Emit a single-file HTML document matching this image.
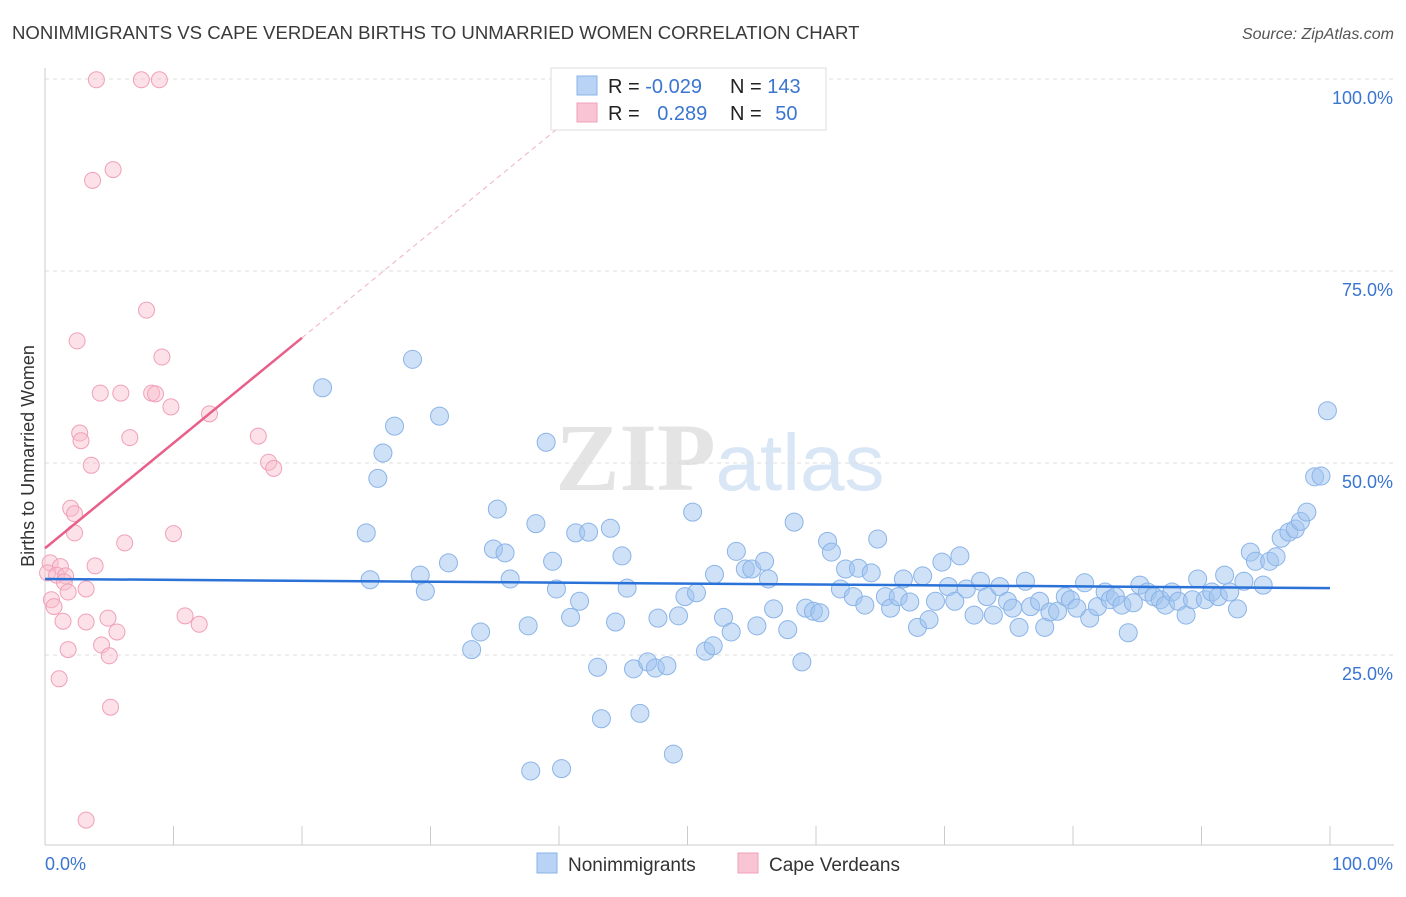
<!DOCTYPE html>
<html><head><meta charset="utf-8"><style>
body{margin:0;background:#fff;font-family:"Liberation Sans",sans-serif;}
svg text{font-family:"Liberation Sans",sans-serif;}
</style></head><body>
<svg id="chart" width="1406" height="892" xmlns="http://www.w3.org/2000/svg">
<text x="12" y="39" font-size="18.6" fill="#3a3a3a">NONIMMIGRANTS VS CAPE VERDEAN BIRTHS TO UNMARRIED WOMEN CORRELATION CHART</text>
<text x="1394" y="39" font-size="16" fill="#555" text-anchor="end" font-style="italic">Source: ZipAtlas.com</text>
<text x="720" y="490" font-size="96" text-anchor="middle"><tspan font-family="Liberation Serif" fill="#e4e4e4" font-weight="bold">ZIP</tspan><tspan fill="#d8e6f6" font-size="80">atlas</tspan></text>
<g id="grid"></g>
<g id="marks"></g>
<text transform="translate(34,456) rotate(-90)" font-size="18" fill="#333" text-anchor="middle">Births to Unmarried Women</text>
<g>
<rect x="551" y="68" width="275" height="62" fill="#fff" stroke="#ddd"/>
<rect x="577" y="76" width="20" height="19" fill="#b8d3f5" stroke="#8ab4e8"/>
<rect x="577" y="103" width="20" height="19" fill="#f9c4d3" stroke="#f0a0b8"/>
<text x="608" y="93" font-size="20" fill="#222">R = <tspan fill="#3a75d0">-0.029</tspan></text>
<text x="730" y="93" font-size="20" fill="#222">N = <tspan fill="#3a75d0">143</tspan></text>
<text x="608" y="120" font-size="20" fill="#222">R = <tspan fill="#3a75d0" dx="12">0.289</tspan></text>
<text x="730" y="120" font-size="20" fill="#222">N = <tspan fill="#3a75d0" dx="8">50</tspan></text>
</g>
<g>
<rect x="537" y="853" width="20" height="20" fill="#b8d3f5" stroke="#8ab4e8"/>
<text x="568" y="871" font-size="19" fill="#333">Nonimmigrants</text>
<rect x="738" y="853" width="20" height="20" fill="#f9c4d3" stroke="#f0a0b8"/>
<text x="769" y="871" font-size="19" fill="#333">Cape Verdeans</text>
</g>
</svg>
<script>
const blueX=[21.6,28.6,27.2,30.7,26.3,25.9,39.0,25.0,25.3,35.2,38.2,34.9,35.8,36.2,29.2,29.6,31.4,33.2,33.9,37.6,39.5,39.8,40.9,41.6,41.3,42.3,44.0,44.9,45.3,44.4,43.0,43.3,46.3,45.8,46.9,47.5,48.4,48.9,37.8,40.2,47.7,49.3,49.8,50.7,50.4,51.4,52.0,52.1,52.8,53.4,53.8,54.5,55.0,55.4,56.0,56.3,56.7,57.8,58.3,58.9,59.2,59.8,60.3,60.9,61.2,61.9,62.3,62.9,63.3,63.8,64.3,64.8,65.4,65.8,66.4,66.8,67.3,67.9,68.3,68.8,69.3,69.8,70.3,70.8,71.2,71.7,72.3,72.8,73.3,73.8,74.3,74.9,75.3,75.8,76.3,76.7,77.4,77.8,78.2,78.8,79.4,79.8,80.3,80.9,81.3,81.9,82.5,82.9,83.3,83.8,84.3,84.7,85.2,85.8,86.3,86.8,87.2,87.7,88.2,88.8,89.3,89.7,90.3,90.8,91.3,91.8,92.2,92.8,93.3,93.8,94.2,94.8,95.3,95.8,96.2,96.8,97.3,97.7,98.2,98.8,99.3,99.8];
const blueY=[59.8,63.5,54.8,56.1,51.3,48.0,52.7,40.9,34.8,44.0,42.1,38.8,38.3,34.9,35.4,33.3,37.0,25.7,28.0,28.8,37.2,33.6,29.9,32.0,40.9,41.0,41.5,37.9,33.7,29.3,23.4,16.7,17.4,23.2,24.1,23.3,23.6,12.1,9.9,10.2,29.8,30.1,32.6,33.1,43.6,25.5,26.2,35.5,29.9,28.0,38.5,36.2,36.2,28.8,37.2,34.9,31.0,28.3,42.3,24.1,31.1,30.7,30.5,39.8,38.4,33.6,36.2,32.6,36.3,31.5,35.7,40.1,32.6,31.1,32.6,34.9,31.9,28.6,35.3,29.6,32.0,37.1,33.9,32.0,37.9,33.6,30.2,34.6,32.6,30.2,33.9,32.0,31.1,28.6,34.6,31.3,32.0,28.6,30.6,30.7,32.6,32.2,31.1,34.4,29.8,31.3,33.2,32.2,32.6,31.5,27.9,31.8,34.1,33.2,32.6,32.2,31.5,33.2,32.0,30.2,32.2,34.9,32.2,33.2,32.6,35.4,33.2,31.0,34.6,38.4,37.2,34.1,37.2,37.8,40.2,41.0,41.4,42.4,43.6,48.2,48.3,56.8];
const pinkX=[4.0,7.5,8.9,5.3,3.7,7.9,2.5,9.1,4.3,5.9,8.3,8.6,9.8,12.8,2.7,2.8,6.6,16.6,3.6,17.4,17.8,2.0,2.3,2.3,10.0,6.2,3.9,0.4,1.2,0.2,0.9,1.6,1.5,1.8,3.2,0.5,0.7,1.4,3.2,4.9,10.9,12.0,5.6,4.4,1.8,5.0,1.1,5.1,3.2];
const pinkY=[99.9,99.9,99.9,88.2,86.8,69.9,65.9,63.8,59.1,59.1,59.1,59.0,57.3,56.4,53.9,52.9,53.3,53.5,49.7,50.1,49.3,44.1,43.4,40.9,40.8,39.6,36.6,37.0,36.5,35.7,35.4,35.3,34.5,33.2,33.6,32.2,31.3,29.4,29.3,29.8,30.1,29.0,28.0,26.3,25.7,24.9,21.9,18.2,3.5];
const blueTrend=[34.9,33.7];
const pinkTrend=[38.9,66.3];
const yTicks=[25,50,75,100];
const xTicks=[0,10,20,30,40,50,60,70,80,90,100];
const NS="http://www.w3.org/2000/svg";
const X=v=>45+v*12.85, Y=v=>847-v*7.68;
function mk(tag,attrs,parent){const e=document.createElementNS(NS,tag);for(const k in attrs)e.setAttribute(k,attrs[k]);parent.appendChild(e);return e;}
const grid=document.getElementById('grid'), marks=document.getElementById('marks');
yTicks.forEach(t=>{
 const l=mk('line',{x1:45,x2:1394,y1:Y(t),y2:Y(t),stroke:'#ddd','stroke-dasharray':'4,4'},grid);
 
 
 const tx=mk('text',{x:1393,y:Y(t)+25,'font-size':18,fill:'#3a75d0','text-anchor':'end'},grid);
 tx.textContent=t.toFixed(1)+'%';
 
 
});
let a=mk('line',{x1:45,x2:45,y1:68,y2:845,stroke:'#ccc'},grid);


a=mk('line',{x1:45,x2:1394,y1:845,y2:845,stroke:'#ccc'},grid);


xTicks.forEach(t=>{
 const l=mk('line',{x1:X(t),x2:X(t),y1:826,y2:845,stroke:'#ccc'},grid);
 
 
});
let t0=mk('text',{x:45,y:870,'font-size':18,fill:'#3a75d0'},grid);t0.textContent='0.0%';


t0=mk('text',{x:1393,y:870,'font-size':18,fill:'#3a75d0','text-anchor':'end'},grid);t0.textContent='100.0%';


blueX.forEach((x,i)=>{
 const c=mk('circle',{cx:X(x),cy:Y(blueY[i]),r:9,fill:'rgba(160,196,240,0.5)',stroke:'#8ab4e8','stroke-width':1},marks);
 
 
});
pinkX.forEach((x,i)=>{
 const c=mk('circle',{cx:X(x),cy:Y(pinkY[i]),r:8,fill:'rgba(248,188,204,0.45)',stroke:'#f0a0b8','stroke-width':1},marks);
 
 
});
let tl=mk('line',{x1:X(0),y1:Y(blueTrend[0]),x2:X(100),y2:Y(blueTrend[1]),stroke:'#2a72d8','stroke-width':2.5},marks);


const slope=(pinkTrend[1]-pinkTrend[0])/20;
tl=mk('line',{x1:X(0),y1:Y(pinkTrend[0]),x2:X(20),y2:Y(pinkTrend[1]),stroke:'#e8608a','stroke-width':2.5},marks);


const xe=(100-pinkTrend[0])/slope;
tl=mk('line',{x1:X(20),y1:Y(pinkTrend[1]),x2:X(xe),y2:Y(100),stroke:'#f0b0c4','stroke-width':1,'stroke-dasharray':'5,4'},marks);


</script>
</body></html>
